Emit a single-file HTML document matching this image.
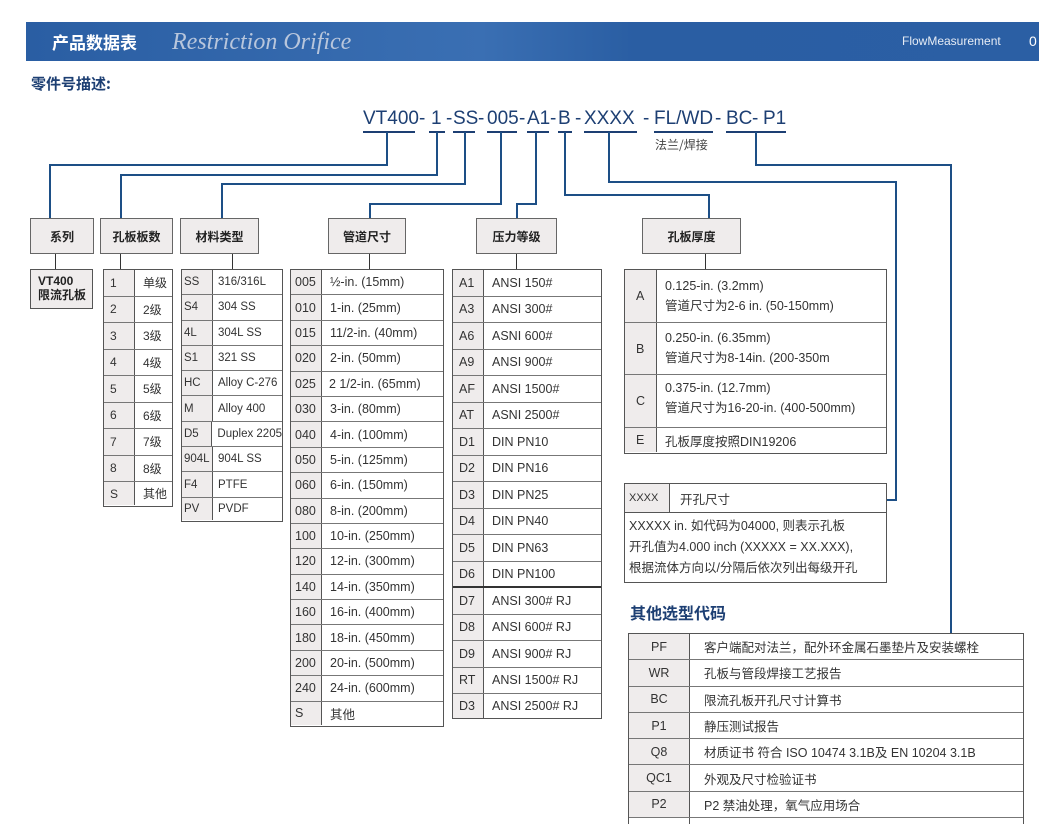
<!DOCTYPE html>
<html><head><meta charset="utf-8"><style>
html,body{margin:0;width:1039px;height:824px;overflow:hidden}
body{background:#fff;position:relative;font-family:"Liberation Sans","Noto Sans CJK SC",sans-serif;color:#333}
.a{position:absolute}
.hdr{position:absolute;top:218px;height:36px;background:#efecec;border:1.5px solid #666;box-sizing:border-box;font-size:12px;font-weight:bold;display:flex;align-items:center;justify-content:center;color:#222}
.ln{position:absolute;background:#1d4f86}
.st{position:absolute;background:#333;width:1px}
.tb{position:absolute;border:1.5px solid #555;box-sizing:border-box;font-size:12px;color:#333;overflow:hidden}
.r{display:flex;border-bottom:1px solid #777;box-sizing:border-box}
.r:last-child{border-bottom:none}
.k{background:#efecec;border-right:1.5px solid #555;box-sizing:border-box;display:flex;align-items:center;padding-left:6px}
.v{display:flex;align-items:center;padding-left:8px;white-space:nowrap}
.cd{position:absolute;top:107px;font-size:19px;color:#1d3f73;line-height:24px}
.ul{position:absolute;top:131px;height:2px;background:#1d3f73}
</style></head><body>
<div class="a" style="left:26px;top:22px;width:1013px;height:39px;background:linear-gradient(90deg,#2a5ea3 0%,#3a6fb3 45%,#2a5ea3 60%,#2b5fa4 100%)"></div>
<div class="a" style="left:52px;top:31px;font-size:17px;font-weight:bold;color:#fff;font-family:'Noto Sans CJK SC',sans-serif;line-height:22px">产品数据表</div>
<div class="a" style="left:172px;top:28px;font-size:24px;font-style:italic;color:#b8c6dc;font-family:'Liberation Serif',serif;line-height:28px">Restriction Orifice</div>
<div class="a" style="left:902px;top:34px;font-size:12px;color:#e6ecf5;line-height:15px">FlowMeasurement</div>
<div class="a" style="left:1029px;top:32px;font-size:14px;color:#fff;line-height:18px">0</div>
<div class="a" style="left:31px;top:74px;font-size:15px;font-weight:bold;color:#1d3f73;font-family:'Noto Sans CJK SC',sans-serif;line-height:20px">零件号描述:</div>

<div class="cd" style="left:363px">VT400</div><div class="cd" style="left:419px">-</div>
<div class="cd" style="left:431px">1</div><div class="cd" style="left:446px">-</div>
<div class="cd" style="left:453px">SS</div><div class="cd" style="left:478px">-</div>
<div class="cd" style="left:487px">005</div><div class="cd" style="left:519px">-</div>
<div class="cd" style="left:527px">A1</div><div class="cd" style="left:550px">-</div>
<div class="cd" style="left:558px">B</div><div class="cd" style="left:575px">-</div>
<div class="cd" style="left:584px">XXXX</div><div class="cd" style="left:643px">-</div>
<div class="cd" style="left:654px">FL/WD</div><div class="cd" style="left:715px">-</div>
<div class="cd" style="left:726px">BC</div><div class="cd" style="left:752px">-</div>
<div class="cd" style="left:763px">P1</div>
<div class="ul" style="left:363px;width:52px"></div><div class="ul" style="left:429px;width:16px"></div>
<div class="ul" style="left:453px;width:22px"></div><div class="ul" style="left:487px;width:30px"></div>
<div class="ul" style="left:527px;width:22px"></div><div class="ul" style="left:558px;width:14px"></div>
<div class="ul" style="left:584px;width:53px"></div><div class="ul" style="left:654px;width:59px"></div>
<div class="ul" style="left:726px;width:60px"></div>
<div class="a" style="left:655px;top:137px;font-size:12px;color:#444;font-family:'Noto Sans CJK SC',sans-serif;line-height:16px">法兰/焊接</div>

<div class="ln" style="left:386px;top:132px;width:2px;height:34px"></div>
<div class="ln" style="left:49px;top:164px;width:339px;height:2px"></div>
<div class="ln" style="left:49px;top:164px;width:2px;height:54px"></div>
<div class="ln" style="left:436px;top:132px;width:2px;height:43px"></div>
<div class="ln" style="left:120px;top:174px;width:318px;height:2px"></div>
<div class="ln" style="left:120px;top:174px;width:2px;height:44px"></div>
<div class="ln" style="left:464px;top:132px;width:2px;height:53px"></div>
<div class="ln" style="left:221px;top:183px;width:245px;height:2px"></div>
<div class="ln" style="left:221px;top:183px;width:2px;height:35px"></div>
<div class="ln" style="left:500px;top:132px;width:2px;height:73px"></div>
<div class="ln" style="left:369px;top:203px;width:133px;height:2px"></div>
<div class="ln" style="left:369px;top:203px;width:2px;height:15px"></div>
<div class="ln" style="left:535px;top:132px;width:2px;height:73px"></div>
<div class="ln" style="left:516px;top:203px;width:21px;height:2px"></div>
<div class="ln" style="left:516px;top:203px;width:2px;height:15px"></div>
<div class="ln" style="left:564px;top:132px;width:2px;height:64px"></div>
<div class="ln" style="left:564px;top:194px;width:146px;height:2px"></div>
<div class="ln" style="left:708px;top:194px;width:2px;height:24px"></div>
<div class="ln" style="left:608px;top:132px;width:2px;height:51px"></div>
<div class="ln" style="left:608px;top:181px;width:289px;height:2px"></div>
<div class="ln" style="left:895px;top:181px;width:2px;height:320px"></div>
<div class="ln" style="left:887px;top:499px;width:10px;height:2px"></div>
<div class="ln" style="left:755px;top:132px;width:2px;height:34px"></div>
<div class="ln" style="left:755px;top:164px;width:197px;height:2px"></div>
<div class="ln" style="left:950px;top:164px;width:2px;height:470px"></div>

<div class="hdr" style="left:30px;width:64px">系列</div>
<div class="hdr" style="left:100px;width:73px">孔板板数</div>
<div class="hdr" style="left:180px;width:79px">材料类型</div>
<div class="hdr" style="left:328px;width:78px">管道尺寸</div>
<div class="hdr" style="left:476px;width:81px">压力等级</div>
<div class="hdr" style="left:642px;width:99px">孔板厚度</div>
<div class="st" style="left:55px;top:254px;height:15px"></div>
<div class="st" style="left:120px;top:254px;height:15px"></div>
<div class="st" style="left:232px;top:254px;height:15px"></div>
<div class="st" style="left:369px;top:254px;height:15px"></div>
<div class="st" style="left:516px;top:254px;height:15px"></div>
<div class="st" style="left:705px;top:254px;height:15px"></div>

<div class="a" style="left:30px;top:269px;width:63px;height:40px;border:1.5px solid #555;box-sizing:border-box;background:#efecec;font-size:12px;font-weight:bold;line-height:14px;padding:4px 0 0 7px;color:#222">VT400<br>限流孔板</div>

<div class="tb" style="left:103px;top:269px;width:70px;height:238px">
<div class="r" style="height:26.5px"><div class="k" style="width:31px">1</div><div class="v">单级</div></div>
<div class="r" style="height:26.5px"><div class="k" style="width:31px">2</div><div class="v">2级</div></div>
<div class="r" style="height:26.5px"><div class="k" style="width:31px">3</div><div class="v">3级</div></div>
<div class="r" style="height:26.5px"><div class="k" style="width:31px">4</div><div class="v">4级</div></div>
<div class="r" style="height:26.5px"><div class="k" style="width:31px">5</div><div class="v">5级</div></div>
<div class="r" style="height:26.5px"><div class="k" style="width:31px">6</div><div class="v">6级</div></div>
<div class="r" style="height:26.5px"><div class="k" style="width:31px">7</div><div class="v">7级</div></div>
<div class="r" style="height:26.5px"><div class="k" style="width:31px">8</div><div class="v">8级</div></div>
<div class="r" style="height:23px"><div class="k" style="width:31px">S</div><div class="v">其他</div></div>
</div>

<div class="tb" style="left:181px;top:269px;width:102px;height:253px;font-size:11.5px">
<div class="r" style="height:25.3px"><div class="k" style="width:31px;padding-left:2px">SS</div><div class="v" style="padding-left:5px">316/316L</div></div>
<div class="r" style="height:25.3px"><div class="k" style="width:31px;padding-left:2px">S4</div><div class="v" style="padding-left:5px">304 SS</div></div>
<div class="r" style="height:25.3px"><div class="k" style="width:31px;padding-left:2px">4L</div><div class="v" style="padding-left:5px">304L SS</div></div>
<div class="r" style="height:25.3px"><div class="k" style="width:31px;padding-left:2px">S1</div><div class="v" style="padding-left:5px">321 SS</div></div>
<div class="r" style="height:25.3px"><div class="k" style="width:31px;padding-left:2px">HC</div><div class="v" style="padding-left:5px">Alloy C-276</div></div>
<div class="r" style="height:25.3px"><div class="k" style="width:31px;padding-left:2px">M</div><div class="v" style="padding-left:5px">Alloy 400</div></div>
<div class="r" style="height:25.3px"><div class="k" style="width:31px;padding-left:2px">D5</div><div class="v" style="padding-left:5px">Duplex 2205</div></div>
<div class="r" style="height:25.3px"><div class="k" style="width:31px;padding-left:2px">904L</div><div class="v" style="padding-left:5px">904L SS</div></div>
<div class="r" style="height:25.3px"><div class="k" style="width:31px;padding-left:2px">F4</div><div class="v" style="padding-left:5px">PTFE</div></div>
<div class="r" style="height:22px"><div class="k" style="width:31px;padding-left:2px">PV</div><div class="v" style="padding-left:5px">PVDF</div></div>
</div>

<div class="tb" style="left:290px;top:269px;width:154px;height:458px;font-size:12.5px">
<div class="r" style="height:25.4px"><div class="k" style="width:31px;padding-left:4px">005</div><div class="v">½-in. (15mm)</div></div>
<div class="r" style="height:25.4px"><div class="k" style="width:31px;padding-left:4px">010</div><div class="v">1-in. (25mm)</div></div>
<div class="r" style="height:25.4px"><div class="k" style="width:31px;padding-left:4px">015</div><div class="v">11/2-in. (40mm)</div></div>
<div class="r" style="height:25.4px"><div class="k" style="width:31px;padding-left:4px">020</div><div class="v">2-in. (50mm)</div></div>
<div class="r" style="height:25.4px"><div class="k" style="width:31px;padding-left:4px">025</div><div class="v" style="padding-left:7px">2 1/2-in. (65mm)</div></div>
<div class="r" style="height:25.4px"><div class="k" style="width:31px;padding-left:4px">030</div><div class="v">3-in. (80mm)</div></div>
<div class="r" style="height:25.4px"><div class="k" style="width:31px;padding-left:4px">040</div><div class="v">4-in. (100mm)</div></div>
<div class="r" style="height:25.4px"><div class="k" style="width:31px;padding-left:4px">050</div><div class="v">5-in. (125mm)</div></div>
<div class="r" style="height:25.4px"><div class="k" style="width:31px;padding-left:4px">060</div><div class="v">6-in. (150mm)</div></div>
<div class="r" style="height:25.4px"><div class="k" style="width:31px;padding-left:4px">080</div><div class="v">8-in. (200mm)</div></div>
<div class="r" style="height:25.4px"><div class="k" style="width:31px;padding-left:4px">100</div><div class="v">10-in. (250mm)</div></div>
<div class="r" style="height:25.4px"><div class="k" style="width:31px;padding-left:4px">120</div><div class="v">12-in. (300mm)</div></div>
<div class="r" style="height:25.4px"><div class="k" style="width:31px;padding-left:4px">140</div><div class="v">14-in. (350mm)</div></div>
<div class="r" style="height:25.4px"><div class="k" style="width:31px;padding-left:4px">160</div><div class="v">16-in. (400mm)</div></div>
<div class="r" style="height:25.4px"><div class="k" style="width:31px;padding-left:4px">180</div><div class="v">18-in. (450mm)</div></div>
<div class="r" style="height:25.4px"><div class="k" style="width:31px;padding-left:4px">200</div><div class="v">20-in. (500mm)</div></div>
<div class="r" style="height:25.4px"><div class="k" style="width:31px;padding-left:4px">240</div><div class="v">24-in. (600mm)</div></div>
<div class="r" style="height:23px"><div class="k" style="width:31px;padding-left:4px">S</div><div class="v">其他</div></div>
</div>

<div class="tb" style="left:452px;top:269px;width:150px;height:450px;font-size:12.5px">
<div class="r" style="height:26.5px"><div class="k" style="width:31px">A1</div><div class="v">ANSI 150#</div></div>
<div class="r" style="height:26.5px"><div class="k" style="width:31px">A3</div><div class="v">ANSI 300#</div></div>
<div class="r" style="height:26.5px"><div class="k" style="width:31px">A6</div><div class="v">ASNI 600#</div></div>
<div class="r" style="height:26.5px"><div class="k" style="width:31px">A9</div><div class="v">ANSI 900#</div></div>
<div class="r" style="height:26.5px"><div class="k" style="width:31px">AF</div><div class="v">ANSI 1500#</div></div>
<div class="r" style="height:26.5px"><div class="k" style="width:31px">AT</div><div class="v">ASNI 2500#</div></div>
<div class="r" style="height:26.5px"><div class="k" style="width:31px">D1</div><div class="v">DIN PN10</div></div>
<div class="r" style="height:26.5px"><div class="k" style="width:31px">D2</div><div class="v">DIN PN16</div></div>
<div class="r" style="height:26.5px"><div class="k" style="width:31px">D3</div><div class="v">DIN PN25</div></div>
<div class="r" style="height:26.5px"><div class="k" style="width:31px">D4</div><div class="v">DIN PN40</div></div>
<div class="r" style="height:26.5px"><div class="k" style="width:31px">D5</div><div class="v">DIN PN63</div></div>
<div class="r" style="height:26.5px;border-bottom:2px solid #333"><div class="k" style="width:31px">D6</div><div class="v">DIN PN100</div></div>
<div class="r" style="height:26.5px"><div class="k" style="width:31px">D7</div><div class="v">ANSI 300# RJ</div></div>
<div class="r" style="height:26.5px"><div class="k" style="width:31px">D8</div><div class="v">ANSI 600# RJ</div></div>
<div class="r" style="height:26.5px"><div class="k" style="width:31px">D9</div><div class="v">ANSI 900# RJ</div></div>
<div class="r" style="height:26.5px"><div class="k" style="width:31px">RT</div><div class="v">ANSI 1500# RJ</div></div>
<div class="r" style="height:24px"><div class="k" style="width:31px">D3</div><div class="v">ANSI 2500# RJ</div></div>
</div>

<div class="tb" style="left:624px;top:269px;width:263px;height:185px;font-size:12.5px">
<div class="r" style="height:53px"><div class="k" style="width:32px;padding-left:11px">A</div><div class="v" style="display:block;line-height:20px;padding-top:6px">0.125-in. (3.2mm)<br>管道尺寸为2-6 in. (50-150mm)</div></div>
<div class="r" style="height:52px"><div class="k" style="width:32px;padding-left:11px">B</div><div class="v" style="display:block;line-height:20px;padding-top:5px">0.250-in. (6.35mm)<br>管道尺寸为8-14in. (200-350m</div></div>
<div class="r" style="height:53px"><div class="k" style="width:32px;padding-left:11px">C</div><div class="v" style="display:block;line-height:20px;padding-top:3px">0.375-in. (12.7mm)<br>管道尺寸为16-20-in. (400-500mm)</div></div>
<div class="r" style="height:24px"><div class="k" style="width:32px;padding-left:11px">E</div><div class="v">孔板厚度按照DIN19206</div></div>
</div>

<div class="tb" style="left:624px;top:483px;width:263px;height:100px;font-size:12.5px">
<div class="r" style="height:29px;border-bottom:1.5px solid #555"><div class="k" style="width:45px;padding-left:4px;font-size:11px">XXXX</div><div class="v" style="padding-left:10px">开孔尺寸</div></div>
<div style="padding:3px 0 0 4px;line-height:21px;white-space:nowrap">XXXXX in. 如代码为04000, 则表示孔板<br>开孔值为4.000 inch (XXXXX = XX.XXX),<br>根据流体方向以/分隔后依次列出每级开孔</div>
</div>

<div class="a" style="left:630px;top:601px;font-size:16px;font-weight:bold;color:#1d3f73;font-family:'Noto Sans CJK SC',sans-serif;line-height:22px">其他选型代码</div>

<div class="tb" style="left:628px;top:633px;width:396px;height:200px;font-size:12.5px">
<div class="r" style="height:26.3px"><div class="k" style="width:61px;justify-content:center;padding:0">PF</div><div class="v" style="padding-left:14px">客户端配对法兰，配外环金属石墨垫片及安装螺栓</div></div>
<div class="r" style="height:26.3px"><div class="k" style="width:61px;justify-content:center;padding:0">WR</div><div class="v" style="padding-left:14px">孔板与管段焊接工艺报告</div></div>
<div class="r" style="height:26.3px"><div class="k" style="width:61px;justify-content:center;padding:0">BC</div><div class="v" style="padding-left:14px">限流孔板开孔尺寸计算书</div></div>
<div class="r" style="height:26.3px"><div class="k" style="width:61px;justify-content:center;padding:0">P1</div><div class="v" style="padding-left:14px">静压测试报告</div></div>
<div class="r" style="height:26.3px"><div class="k" style="width:61px;justify-content:center;padding:0">Q8</div><div class="v" style="padding-left:14px">材质证书 符合 ISO 10474 3.1B及 EN 10204 3.1B</div></div>
<div class="r" style="height:26.3px"><div class="k" style="width:61px;justify-content:center;padding:0">QC1</div><div class="v" style="padding-left:14px">外观及尺寸检验证书</div></div>
<div class="r" style="height:26.3px"><div class="k" style="width:61px;justify-content:center;padding:0">P2</div><div class="v" style="padding-left:14px">P2 禁油处理，氧气应用场合</div></div>
<div class="r" style="height:20px"><div class="k" style="width:61px;background:#fff"></div><div class="v"></div></div>
</div>
</body></html>
